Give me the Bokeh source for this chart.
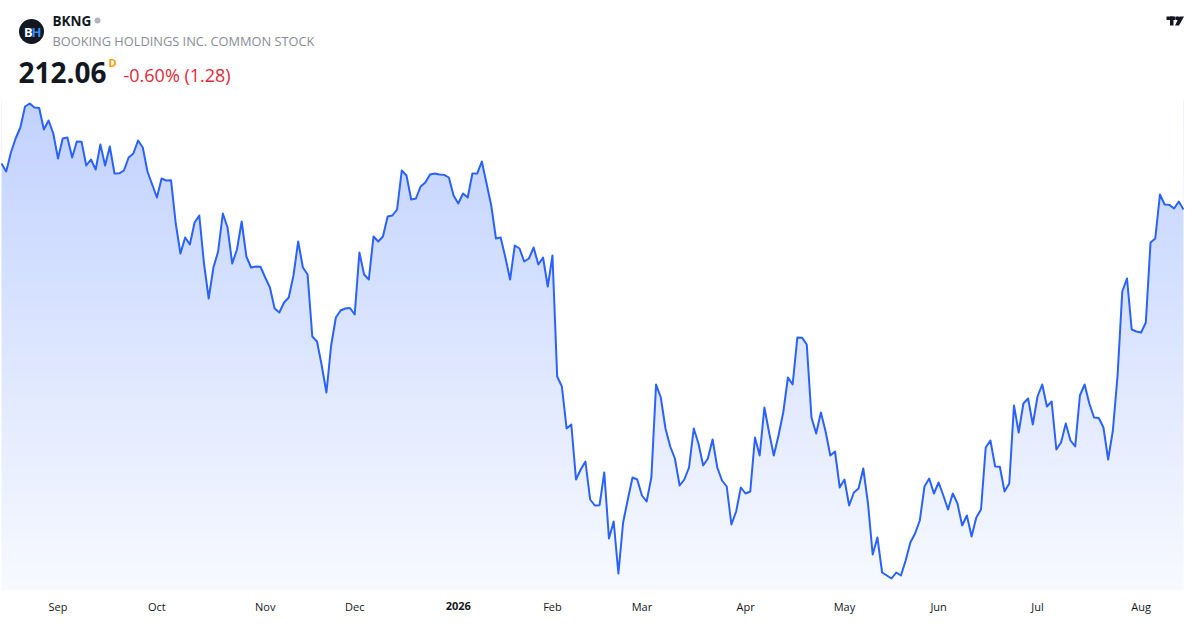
import numpy as np
from bokeh.plotting import figure
from bokeh.models import Range1d, FixedTicker, Label, LinearAxis
from bokeh.core.properties import value
from bokeh.embed import file_html
from bokeh.resources import INLINE

symbol = "BKNG"
company = "BOOKING HOLDINGS INC. COMMON STOCK"
last_price = "212.06"
change_text = "-0.60% (1.28)"
interval = "D"

prices = [
    219.42, 218.14, 221.18, 223.42, 225.18, 228.54, 229.02, 228.38, 228.30, 224.86,
    226.30, 224.22, 220.22, 223.42, 223.58, 220.38, 222.94, 222.90, 219.10, 220.06,
    218.46, 222.46, 219.10, 222.14, 217.82, 217.85, 218.30, 220.38, 221.02, 223.10,
    221.98, 218.14, 216.06, 213.98, 217.02, 216.70, 216.75, 209.82, 205.02, 207.58,
    206.46, 209.98, 211.10, 203.42, 197.82, 202.78, 205.34, 211.42, 209.18, 203.42,
    205.66, 210.14, 204.54, 202.78, 202.94, 202.90, 201.18, 199.58, 196.22, 195.58,
    197.18, 197.98, 201.50, 206.94, 202.78, 201.66, 191.74, 190.94, 187.10, 182.78,
    190.30, 194.78, 195.90, 196.22, 196.30, 195.26, 205.18, 201.66, 200.86, 207.74,
    206.94, 207.74, 210.94, 211.10, 212.06, 218.30, 217.50, 213.66, 213.82, 215.74,
    216.38, 217.66, 217.82, 217.66, 217.60, 217.18, 214.30, 213.02, 214.62, 213.98,
    217.82, 217.80, 219.74, 216.22, 212.70, 207.42, 207.58, 204.38, 200.86, 206.30,
    205.82, 203.74, 204.22, 205.98, 203.26, 204.38, 199.74, 204.70, 185.34, 183.74,
    177.02, 177.66, 168.86, 170.46, 171.74, 165.66, 164.70, 164.75, 169.98, 159.42,
    162.14, 153.82, 161.98, 165.66, 169.18, 168.86, 166.30, 165.34, 169.18, 184.06,
    181.98, 177.02, 174.14, 172.22, 167.90, 168.86, 170.78, 177.02, 174.62, 171.10,
    172.22, 175.26, 170.78, 168.70, 167.74, 161.66, 163.74, 167.58, 166.62, 166.94,
    175.58, 172.70, 180.38, 176.38, 172.70, 175.90, 179.58, 185.18, 184.06, 191.58,
    191.55, 190.46, 178.78, 176.22, 179.58, 176.54, 172.70, 173.34, 167.58, 168.86,
    164.70, 166.78, 167.42, 170.62, 165.02, 156.86, 159.58, 153.98, 153.50, 153.02,
    153.98, 153.50, 155.90, 158.78, 160.22, 162.30, 167.74, 169.02, 166.62, 168.38,
    166.30, 164.06, 166.62, 165.02, 161.50, 163.10, 159.74, 162.78, 164.06, 173.98,
    175.10, 170.94, 170.90, 166.94, 168.22, 180.70, 176.38, 181.02, 181.82, 177.66,
    182.14, 184.06, 180.54, 181.34, 173.66, 174.78, 177.82, 175.10, 174.14, 182.30,
    184.06, 181.02, 178.78, 178.70, 177.18, 172.06, 176.70, 185.50, 198.94, 201.02,
    192.86, 192.54, 192.38, 193.98, 206.78, 207.42, 214.46, 212.86, 212.80, 212.22,
    213.34, 212.06,
]

tick_index = [12, 33, 56, 75, 97, 117, 136, 158, 179, 199, 220, 242]
tick_labels = ["Sep", "Oct", "Nov", "Dec", "2026", "Feb", "Mar", "Apr", "May", "Jun", "Jul", "Aug"]
bold_label = "2026"

FONT = "Open Sans"
LINE = "#2962ff"
TEXT = "#131722"

n = len(prices)
idx = np.arange(n)
FW, FH = 1184, 590
xs, xe = -0.212, n - 1 + 0.212
yhi = 245.5
ylo = yhi - 0.16 * FH


def X(px):
    # figure pixel -> data x
    return xs + px / FW * (xe - xs)


def Y(py):
    # figure pixel (from top) -> data y
    return yhi - py / FH * (yhi - ylo)


p = figure(frame_width=FW, frame_height=FH, x_range=Range1d(xs, xe), y_range=Range1d(ylo, yhi),
           output_backend="svg", toolbar_location=None, y_axis_location=None,
           min_border_left=0, min_border_right=0, min_border_top=0, min_border_bottom=24)
p.background_fill_color = "white"
p.border_fill_color = "white"
p.outline_line_color = None
p.grid.visible = False

# vertical gradient under the curve
rows = 256
t = np.linspace(0, 1, rows)
alpha = 0.035 + (0.29 - 0.035) * t
img = np.empty((rows, 1), dtype=np.uint32)
view = img.view(dtype=np.uint8).reshape((rows, 1, 4))
view[..., 0] = np.round(255 - alpha * (255 - 41)).astype(np.uint8)[:, None]
view[..., 1] = np.round(255 - alpha * (255 - 98)).astype(np.uint8)[:, None]
view[..., 2] = 255
view[..., 3] = 255
grad_top = Y(100)
p.image_rgba(image=[img], x=0, y=ylo, dw=n - 1, dh=grad_top - ylo)
p.varea(x=idx, y1=prices, y2=yhi + 5, fill_color="white")
p.line(idx, prices, line_color=LINE, line_width=2, line_join="round")


def style_axis(a, standoff):
    a.axis_line_color = None
    a.major_tick_line_color = None
    a.minor_tick_line_color = None
    a.major_tick_in = 0
    a.major_tick_out = 0
    a.minor_tick_in = 0
    a.minor_tick_out = 0
    a.major_label_standoff = standoff
    a.major_label_text_font = FONT
    a.major_label_text_font_size = "11px"
    a.major_label_text_color = TEXT


ax = p.xaxis[0]
ax.ticker = FixedTicker(ticks=tick_index)
ax.major_label_overrides = {i: ("" if lab == bold_label else lab) for i, lab in zip(tick_index, tick_labels)}
style_axis(ax, 8)

bold_ticks = [i for i, lab in zip(tick_index, tick_labels) if lab == bold_label]
ax2 = LinearAxis(ticker=FixedTicker(ticks=bold_ticks),
                 major_label_overrides={i: bold_label for i in bold_ticks})
style_axis(ax2, -15)
ax2.major_label_text_font_style = "bold"
p.add_layout(ax2, "below")

# header
p.scatter(x=[X(31)], y=[Y(31)], size=25, fill_color="#131722", line_color=None)
p.add_layout(Label(x=X(23.5), y=Y(31.5), text="B", text_align="left", text_baseline="middle",
                   text_font=FONT, text_font_size="13px", text_font_style="bold", text_color="white"))
p.add_layout(Label(x=X(31), y=Y(31.5), text="H", text_align="left", text_baseline="middle",
                   text_font=FONT, text_font_size="13px", text_font_style="bold", text_color="#2e8fff"))
p.add_layout(Label(x=X(52), y=Y(20), text=symbol, text_align="left", text_baseline="middle",
                   text_font=FONT, text_font_size="13.5px", text_font_style="bold", text_color=TEXT))
p.scatter(x=[X(97)], y=[Y(20)], size=6, fill_color="#b2b5be", line_color=None)
p.add_layout(Label(x=X(52), y=Y(40), text=company, text_align="left", text_baseline="middle",
                   text_font=FONT, text_font_size="12.8px", text_color="#8a8d96"))
p.add_layout(Label(x=X(18), y=Y(72), text=last_price, text_align="left", text_baseline="middle",
                   text_font=FONT, text_font_size="28px", text_font_style="bold", text_color=TEXT))
p.add_layout(Label(x=X(108), y=Y(62), text=interval, text_align="left", text_baseline="middle",
                   text_font=FONT, text_font_size="11px", text_font_style="bold", text_color="#ff9800"))
p.add_layout(Label(x=X(123), y=Y(74), text=change_text, text_align="left", text_baseline="middle",
                   text_font=FONT, text_font_size="18px", text_color="#e0293b"))

# small logo mark, top right
p.quad(left=[X(1166), X(1169.5)], right=[X(1175), X(1173)], top=[Y(16), Y(16)],
       bottom=[Y(19.5), Y(25)], fill_color="#131722", line_color=None)
p.scatter(x=[X(1177)], y=[Y(17.8)], size=4, fill_color="#131722", line_color=None)
p.patch(x=[X(1179), X(1183.5), X(1178.5), X(1174.5)], y=[Y(16), Y(16), Y(25), Y(25)],
        fill_color="#131722", line_color=None)

open("out.html", "w").write(file_html(p, INLINE))
